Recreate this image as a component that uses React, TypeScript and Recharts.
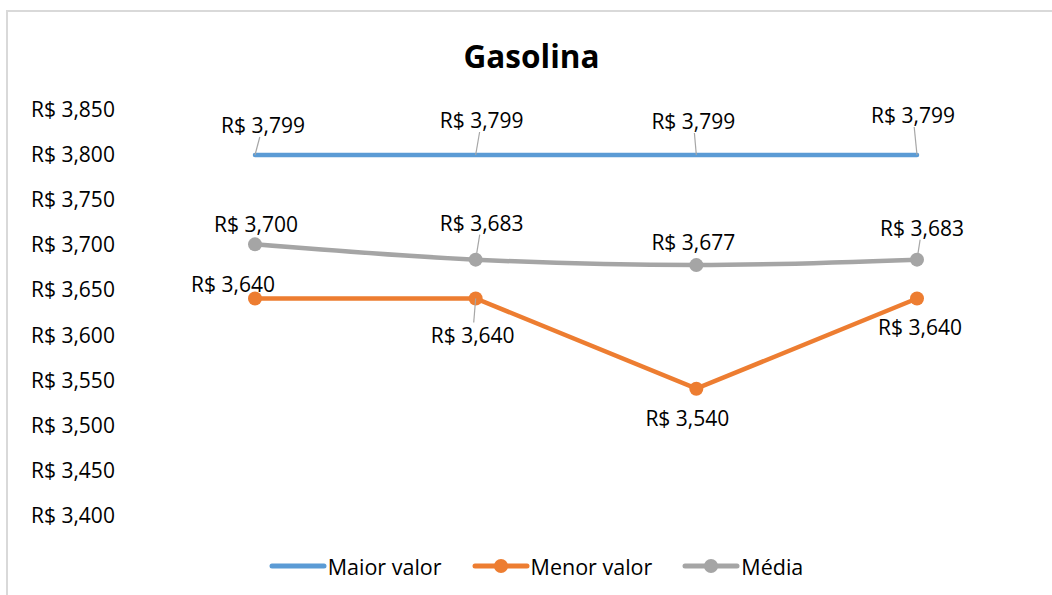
import React from 'react';
import { LineChart, Line, XAxis, YAxis, Legend, LabelList } from 'recharts';

const categories = ['1', '2', '3', '4'];
const maiorValor = [3.799, 3.799, 3.799, 3.799];
const menorValor = [3.64, 3.64, 3.54, 3.64];
const media = [3.7, 3.683, 3.677, 3.683];
const yTicks = [3.4, 3.45, 3.5, 3.55, 3.6, 3.65, 3.7, 3.75, 3.8, 3.85];

const data = categories.map((c, i) => ({
  cat: c,
  maior: maiorValor[i],
  menor: menorValor[i],
  media: media[i],
}));

const FONT = '"Open Sans", "Noto Sans", sans-serif';
const BLUE = '#5B9BD5';
const ORANGE = '#ED7D31';
const GRAY = '#A5A5A5';

const fmt = (v: number) => 'R$ ' + v.toFixed(3).replace('.', ',');

// label placement (offset of label centre from point) and leader-line flags
const maiorLabel = { dx: [8, 6, -3, -4], dy: [-30, -35, -34, -40], leader: [true, true, true, true] };
const mediaLabel = { dx: [1, 6, -3, 5], dy: [-20, -37, -23, -32], leader: [false, true, false, true] };
const menorLabel = { dx: [-22, -3, -9, 3], dy: [-14, 37, 29, 29], leader: [false, true, false, false] };

const makeLabel = (cfg: { dx: number[]; dy: number[]; leader: boolean[] }) => (props: any) => {
  const { x, y, value, index } = props;
  const cx = x + cfg.dx[index];
  const cy = y + cfg.dy[index];
  let leader = null;
  if (cfg.leader[index]) {
    const above = cy < y;
    const ey = above ? cy + 12 : cy - 13;
    const t = (ey - y) / (cy - y);
    const ex = x + (cx - x) * t;
    leader = <line x1={x} y1={y} x2={ex} y2={ey} stroke="#A6A6A6" strokeWidth={1.2} />;
  }
  return (
    <g>
      {leader}
      <text x={cx} y={cy} textAnchor="middle" dominantBaseline="central" fill="#000" fontSize={21} fontFamily={FONT}>
        {fmt(value)}
      </text>
    </g>
  );
};

const YTick = (props: any) => {
  const { y, payload } = props;
  return (
    <text x={31} y={y} textAnchor="start" dominantBaseline="central" fill="#000" fontSize={21} fontFamily={FONT}>
      {fmt(payload.value)}
    </text>
  );
};

const legendItems = [
  { name: 'Maior valor', color: BLUE, marker: false },
  { name: 'Menor valor', color: ORANGE, marker: true },
  { name: 'Média', color: GRAY, marker: true },
];

const LegendContent = () => (
  <div style={{ display: 'flex', justifyContent: 'center', alignItems: 'center', height: 30, fontFamily: FONT, fontSize: 21.5, paddingLeft: 50 }}>
    {legendItems.map((it) => (
      <div key={it.name} style={{ display: 'flex', alignItems: 'center', marginRight: 30 }}>
        <svg width={58} height={20} style={{ marginRight: 1 }}>
          <line x1={3} y1={10} x2={55} y2={10} stroke={it.color} strokeWidth={5} strokeLinecap="round" />
          {it.marker && <circle cx={29} cy={10} r={7} fill={it.color} />}
        </svg>
        <span style={{ color: '#000' }}>{it.name}</span>
      </div>
    ))}
  </div>
);

export default function App() {
  return (
    <div style={{ position: 'absolute', left: 0, top: 0, width: 1052, height: 595, overflow: 'hidden', background: '#fff' }}>
      <div style={{ position: 'absolute', left: 6, top: 10, width: 1200, height: 800, border: '2px solid #D9D9D9', boxSizing: 'border-box' }} />
      <div style={{ position: 'absolute', left: 0, top: 36, width: 1063, textAlign: 'center', fontFamily: FONT, fontWeight: 700, fontSize: 31.5, lineHeight: '40px', color: '#000' }}>
        Gasolina
      </div>
      <div style={{ position: 'absolute', left: 0, top: 0 }}>
        <LineChart width={1052} height={595} data={data} margin={{ top: 109, right: 24, bottom: 50, left: 0 }}>
          <XAxis dataKey="cat" hide padding={{ left: 110, right: 111 }} />
          <YAxis
            domain={[3.4, 3.85]}
            ticks={yTicks}
            width={145}
            axisLine={false}
            tickLine={false}
            tick={<YTick />}
            interval={0}
          />
          <Legend
            verticalAlign="bottom"
            content={<LegendContent />}
            wrapperStyle={{ top: 551, bottom: 'auto', left: 0, width: 1052 }}
          />
          <Line dataKey="maior" name="Maior valor" stroke={BLUE} strokeWidth={4.5} strokeLinecap="round" dot={false} isAnimationActive={false}>
            <LabelList dataKey="maior" content={makeLabel(maiorLabel)} />
          </Line>
          <Line type="monotone" dataKey="media" name="Média" stroke={GRAY} strokeWidth={4.5} dot={{ r: 7, fill: GRAY, stroke: GRAY, strokeWidth: 0 }} isAnimationActive={false}>
            <LabelList dataKey="media" content={makeLabel(mediaLabel)} />
          </Line>
          <Line dataKey="menor" name="Menor valor" stroke={ORANGE} strokeWidth={4.5} dot={{ r: 7, fill: ORANGE, stroke: ORANGE, strokeWidth: 0 }} isAnimationActive={false}>
            <LabelList dataKey="menor" content={makeLabel(menorLabel)} />
          </Line>
        </LineChart>
      </div>
    </div>
  );
}
